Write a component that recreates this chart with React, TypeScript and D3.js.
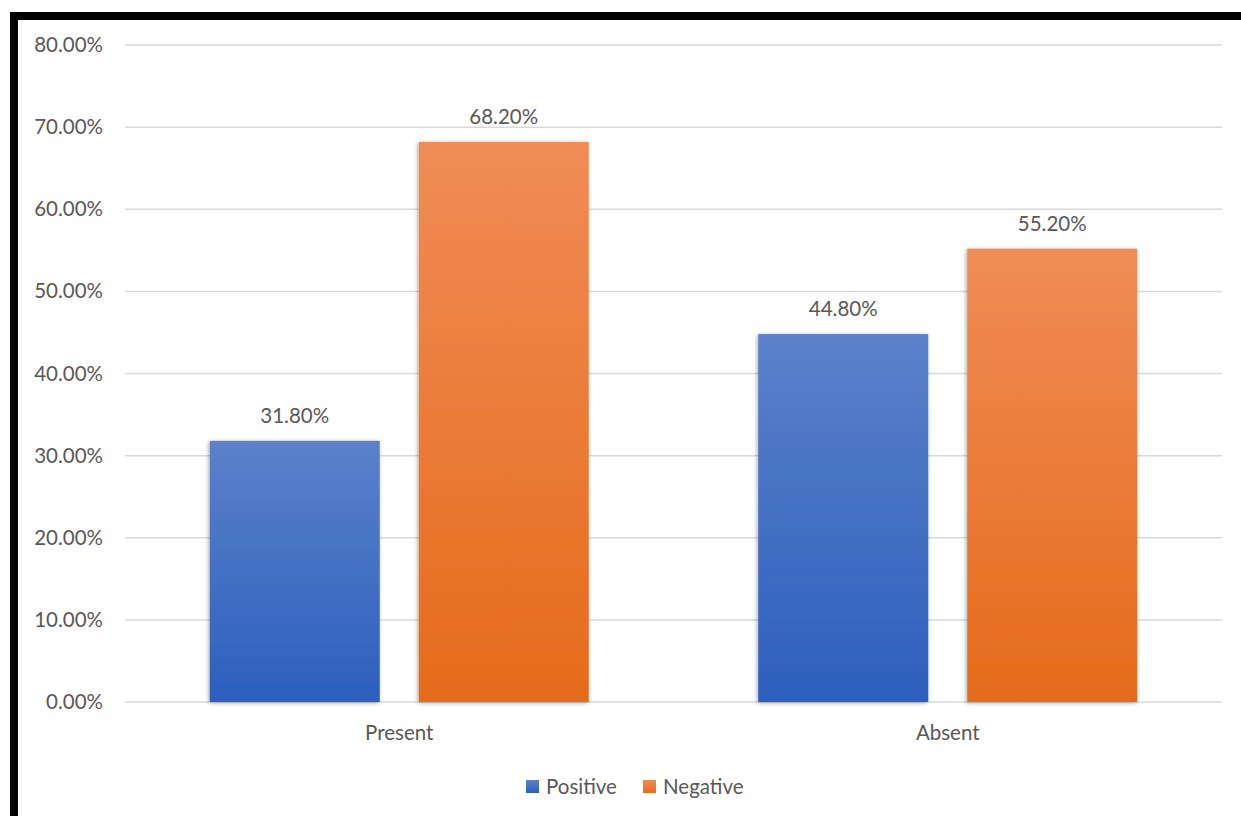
import React from "react";
import * as d3 from "d3";

const categories = ["Present", "Absent"];
const seriesNames = ["Positive", "Negative"];
const positiveValues = [31.8, 44.8];
const negativeValues = [68.2, 55.2];
const yTicks = [0, 10, 20, 30, 40, 50, 60, 70, 80];

const W = 1241;
const H = 816;
const FONT = "Lato, 'Open Sans', sans-serif";
const TEXT = "#595959";
const FS = 20.5;

export default function App() {
  const left = 125, right = 1222, top = 45, bottom = 702;
  const y = d3.scaleLinear().domain([0, 80]).range([bottom, top]);
  const x0 = d3.scaleBand().domain(categories).range([left, right]).paddingInner(0).paddingOuter(0);
  const groupW = x0.bandwidth();
  const barW = 170;
  const gap = 39;
  const series = [
    { name: seriesNames[0], values: positiveValues, grad: "gBlue", top: "#5b81ca", bot: "#2c5fbd" },
    { name: seriesNames[1], values: negativeValues, grad: "gOrange", top: "#f08c56", bot: "#e56b1a" },
  ];
  const barX = (ci: number, si: number) => {
    const c = x0(categories[ci])! + groupW / 2;
    const start = c - (barW * 2 + gap) / 2;
    return start + si * (barW + gap);
  };
  return (
    <svg width={W} height={H} style={{ position: "absolute", left: 0, top: 0, background: "#fff" }}>
      <defs>
        {series.map((s) => (
          <linearGradient key={s.grad} id={s.grad} x1="0" y1="0" x2="0" y2="1">
            <stop offset="0" stopColor={s.top} />
            <stop offset="1" stopColor={s.bot} />
          </linearGradient>
        ))}
        <filter id="shadow" x="-10%" y="-10%" width="120%" height="120%">
          <feDropShadow dx="-1" dy="1" stdDeviation="2" floodColor="#000" floodOpacity="0.35" />
        </filter>
      </defs>
      <rect x={0} y={0} width={W} height={H} fill="#fff" />
      <rect x={10} y={12} width={W - 10} height={8} fill="#000" />
      <rect x={10} y={12} width={8} height={H - 12} fill="#000" />
      {yTicks.map((t) => (
        <g key={t}>
          <line x1={left} x2={right} y1={y(t)} y2={y(t)} stroke="#d9d9d9" strokeWidth={1.5} />
          <text x={103} y={y(t) + 7} textAnchor="end" fontFamily={FONT} fontSize={FS} fill={TEXT}>
            {t.toFixed(2)}%
          </text>
        </g>
      ))}
      {categories.map((c, ci) =>
        series.map((s, si) => {
          const bx = barX(ci, si);
          const v = s.values[ci];
          return (
            <g key={c + s.name}>
              <rect x={bx} y={y(v)} width={barW} height={y(0) - y(v)} fill={`url(#${s.grad})`} filter="url(#shadow)" />
              <text x={bx + barW / 2} y={y(v) - 18} textAnchor="middle" fontFamily={FONT} fontSize={FS} fill={TEXT}>
                {v.toFixed(2)}%
              </text>
            </g>
          );
        })
      )}
      {categories.map((c) => (
        <text key={c} x={x0(c)! + groupW / 2} y={740} textAnchor="middle" fontFamily={FONT} fontSize={FS} fill={TEXT}>
          {c}
        </text>
      ))}
      {series.map((s, i) => {
        const lx = i === 0 ? 526 : 643;
        return (
          <g key={s.name}>
            <rect x={lx} y={780} width={13} height={13} fill={`url(#${s.grad})`} />
            <text x={lx + 20} y={794} fontFamily={FONT} fontSize={FS} fill={TEXT}>
              {s.name}
            </text>
          </g>
        );
      })}
    </svg>
  );
}
